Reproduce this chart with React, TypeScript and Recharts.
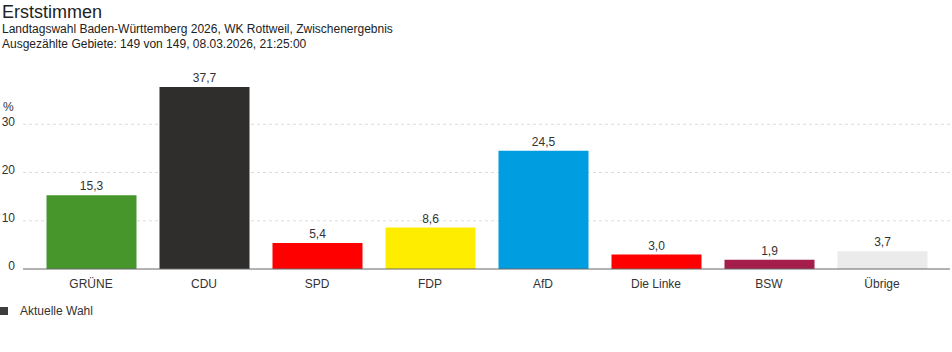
import React from "react";
import { BarChart, Bar, XAxis, YAxis, CartesianGrid, LabelList, Cell } from "recharts";

const parties = ["GRÜNE", "CDU", "SPD", "FDP", "AfD", "Die Linke", "BSW", "Übrige"];
const values = [15.3, 37.7, 5.4, 8.6, 24.5, 3.0, 1.9, 3.7];
const colors = ["#46962b", "#2f2e2c", "#ff0000", "#ffed00", "#009ee0", "#ff0000", "#a51d4a", "#ebebeb"];
const yTicks = [0, 10, 20, 30];
const gridValues = [10, 20, 30];

const data = parties.map((p, i) => ({ party: p, value: values[i] }));

const font = "'Liberation Sans', Arial, Helvetica, sans-serif";

export default function App() {
  return (
    <div style={{ position: "absolute", left: 0, top: 0, width: 952, height: 352, fontFamily: font, color: "#222" }}>
      <div style={{ position: "absolute", left: 2, top: 1, fontSize: 18, lineHeight: "22px" }}>Erststimmen</div>
      <div style={{ position: "absolute", left: 2, top: 22, fontSize: 12, lineHeight: "15px" }}>
        Landtagswahl Baden-Württemberg 2026, WK Rottweil, Zwischenergebnis
      </div>
      <div style={{ position: "absolute", left: 2, top: 37, fontSize: 12, lineHeight: "15px" }}>
        Ausgezählte Gebiete: 149 von 149, 08.03.2026, 21:25:00
      </div>
      <div style={{ position: "absolute", left: 3, top: 100, fontSize: 12, lineHeight: "14px", color: "#333" }}>%</div>
      <div style={{ position: "absolute", left: 0, top: 0 }}>
        <BarChart width={952} height={300} data={data} margin={{ top: 76, right: 2, bottom: 1, left: 0 }}>
          <CartesianGrid vertical={false} horizontalValues={gridValues} strokeDasharray="3 3" stroke="#dcdcdc" />
          <YAxis
            width={23}
            domain={[0, 40]}
            ticks={yTicks}
            axisLine={false}
            tickLine={false}
            tick={{ fontSize: 12, fill: "#333", fontFamily: font, dy: -3 }}
          />
          <XAxis
            dataKey="party"
            height={30}
            padding={{ left: 11.5, right: 11.5 }}
            axisLine={{ stroke: "#666" }}
            tickLine={false}
            interval={0}
            tick={{ fontSize: 12, fill: "#333", fontFamily: font, dy: 2 }}
          />
          <Bar dataKey="value" barSize={90} isAnimationActive={false}>
            {data.map((d, i) => (
              <Cell key={d.party} fill={colors[i]} />
            ))}
            <LabelList
              dataKey="value"
              position="top"
              offset={5}
              formatter={(v: number) => v.toFixed(1).replace(".", ",")}
              style={{ fontSize: 12, fill: "#333", fontFamily: font }}
            />
          </Bar>
        </BarChart>
      </div>
      <div style={{ position: "absolute", left: 0, top: 307, width: 8, height: 8, background: "#3d3d3d" }} />
      <div style={{ position: "absolute", left: 20, top: 304, fontSize: 12, lineHeight: "14px", color: "#333" }}>
        Aktuelle Wahl
      </div>
    </div>
  );
}
